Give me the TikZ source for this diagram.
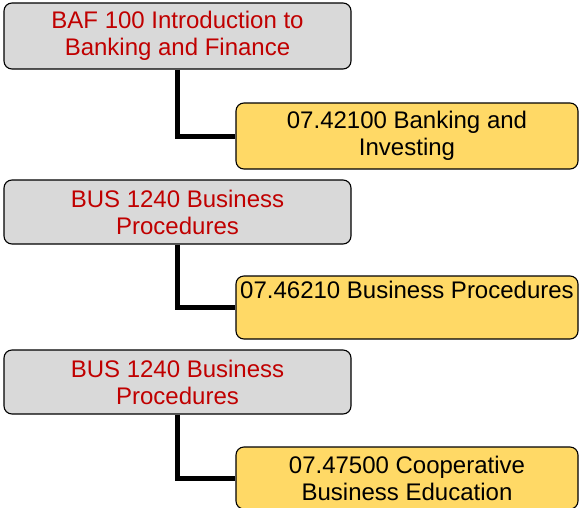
\documentclass[tikz,border=0pt]{standalone}
\usepackage{fontspec}
\setmainfont{Liberation Sans}
\usetikzlibrary{positioning}
\definecolor{boxgray}{HTML}{D9D9D9}
\definecolor{boxyellow}{HTML}{FFD966}
\definecolor{coursered}{HTML}{C00000}

\begin{document}
\begin{tikzpicture}
  [x=1pt,y=-1pt,
   every node/.style={draw=black,line width=1.1pt,rounded corners=8pt,align=center,
     font=\fontsize{24}{27}\selectfont,inner sep=0pt},
   course/.style={fill=boxgray,text=coursered,minimum width=347pt},
   pathway/.style={fill=boxyellow,text=black,minimum width=342pt},
   link/.style={line width=5pt}]
  \useasboundingbox (0,0) rectangle (579,507);

  \node[course,minimum height=66pt] (g1) at (177.5,36) {BAF 100 Introduction to\\Banking and Finance};
  \node[course,minimum height=64pt] (g2) at (177.5,212) {BUS 1240 Business\\Procedures};
  \node[course,minimum height=64pt] (g3) at (177.5,382) {BUS 1240 Business\\Procedures};

  \node[pathway,minimum height=66pt] (y1) at (407,136) {07.42100 Banking and\\Investing};
  % single line sits in the upper half, as in the source
  \node[pathway,minimum height=63pt] (y2) at (407,307.5) {07.46210 Business Procedures\\\strut};
  \node[pathway,minimum height=62pt] (y3) at (407,478) {07.47500 Cooperative\\Business Education};

  \foreach \from/\to in {g1/y1,g2/y2,g3/y3}
    \draw[link] (\from.south) |- (\to.west);

\end{tikzpicture}
\end{document}
